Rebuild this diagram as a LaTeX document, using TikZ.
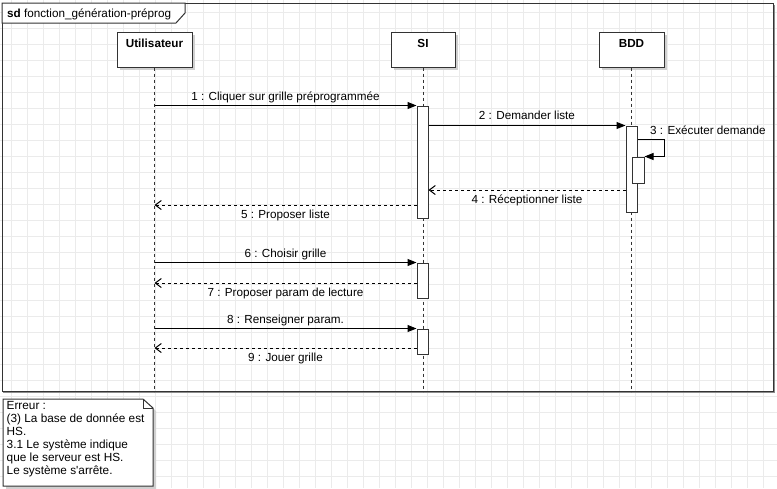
\documentclass[tikz,border=0pt]{standalone}
\usepackage{fontspec}
\setmainfont{Liberation Sans}
\newfontfamily\notefont{Liberation Sans}
\usetikzlibrary{arrows.meta,calc,shadows}
\definecolor{gridc}{HTML}{EBEBEB}
\definecolor{linec}{HTML}{333333}
\definecolor{shadc}{HTML}{D0D0D0}
\begin{document}
\begin{tikzpicture}[x=1pt,y=-1pt,
  every node/.style={inner sep=0pt, font=\fontsize{11.7}{13}\selectfont},
  gridline/.style={draw=gridc, line width=1pt},
  headbox/.style={draw=linec, fill=white, line width=1pt, minimum height=35pt,
    drop shadow={shadow xshift=3pt, shadow yshift=-3pt, fill=shadc, opacity=1}},
  actbox/.style={draw=linec, fill=white, line width=1pt, minimum width=11pt},
  lifeline/.style={draw=linec, line width=1pt, dash pattern=on 3pt off 3pt},
  sync/.style={draw=black, line width=1pt, -{Triangle[length=9pt,width=7pt]}},
  reply/.style={draw=black, line width=1pt, dash pattern=on 3pt off 3pt, -{Straight Barb[length=6pt,width=9pt]}},
  msglabel/.style={text height=9pt, text depth=2.5pt},
]
\useasboundingbox (0,0) rectangle (777,488);
% background grid
\foreach \gx in {11,27,...,779} {\draw[gridline] (\gx,0) -- (\gx,488);}
\foreach \gy in {12,28,...,488} {\draw[gridline] (0,\gy) -- (777,\gy);}

% frame
\draw[black!45, line width=1.5pt] (774.2,5) -- (774.2,392.7) -- (3,392.7);
\node[draw=linec, line width=1pt, minimum width=771pt, minimum height=388pt] (frame) at (387.5,197) {};
\draw[draw=linec, fill=white, line width=1pt] (2,3) -- (185,3) -- (185,13) -- (176,23) -- (2,23) -- cycle;
\node[anchor=base west] (title) at (7,17.5) {\textbf{sd}\ fonction\_génération-préprog};

% lifeline heads
\node[headbox, minimum width=75pt] (U) at (154.5,49.5) {};
\node[headbox, minimum width=64pt] (S) at (423,49.5) {};
\node[headbox, minimum width=65pt] (B) at (631.5,49.5) {};
\node[anchor=base] (Ulab) at (154.5,47) {\bfseries Utilisateur};
\node[anchor=base] (Slab) at (423,47) {\bfseries SI};
\node[anchor=base] (Blab) at (631.5,47) {\bfseries BDD};

% lifelines
\draw[lifeline] (U.south) -- (U.south |- frame.south);
\draw[lifeline] (S.south) -- (S.south |- frame.south);
\draw[lifeline] (B.south) -- (B.south |- frame.south);

% activations
\node[actbox, minimum height=112pt] (s1) at (422.5,162) {};
\node[actbox, minimum height=86pt] (b1) at (631.5,169) {};
\node[actbox, minimum width=12pt, minimum height=26pt] (b2) at (638,170) {};
\node[actbox, minimum height=35pt] (s2) at (422.5,280.5) {};
\node[actbox, minimum height=25pt] (s3) at (422.5,341.5) {};

% message coordinates
\coordinate (m3) at (664,139);
\coordinate (m4) at (0,190);
\coordinate (m5) at (0,205);
\coordinate (m7) at (0,283);
\coordinate (m9) at (0,348);

% messages
\draw[sync] (U.south |- s1.north) -- (s1.north west)
  node[msglabel, midway, above=2.5pt] (l1) {1 : Cliquer sur grille préprogrammée};
\draw[sync] (s1.east |- b1.north) -- (b1.north west)
  node[msglabel, midway, above=3.5pt] (l2) {2 : Demander liste};
\draw[sync] (m3 -| b1.east) -- (m3) |- (b2.north east);
\node[anchor=base west] (l3) at (650,134) {3 : Exécuter demande};
\draw[reply] (m4 -| b1.west) -- (m4 -| s1.east)
  node[msglabel, midway, below=4pt] (l4) {4 : Réceptionner liste};
\draw[reply] (m5 -| s1.west) -- (m5 -| U.south)
  node[msglabel, midway, below=4pt] (l5) {5 : Proposer liste};
\draw[sync] (U.south |- s2.north) -- (s2.north west)
  node[msglabel, midway, above=2.5pt] (l6) {6 : Choisir grille};
\draw[reply] (m7 -| s2.west) -- (m7 -| U.south)
  node[msglabel, midway, below=4pt] (l7) {7 : Proposer param de lecture};
\draw[sync] (U.south |- s3.north) -- (s3.north west)
  node[msglabel, midway, above=2.5pt] (l8) {8 : Renseigner param.};
\draw[reply] (m9 -| s3.west) -- (m9 -| U.south)
  node[msglabel, midway, below=4pt] (l9) {9 : Jouer grille};

% note
\fill[shadc] (6,402) -- (146,402) -- (156,411) -- (156,489) -- (6,489) -- cycle;
\draw[draw=linec, fill=white, line width=1pt] (3,399) -- (143,399) -- (153,408) -- (153,486) -- (3,486) -- cycle;
\draw[draw=linec, line width=0.6pt] (143,399) -- (143,408) -- (153,408);
\node[anchor=north west, align=left, font=\notefont\fontsize{11.8}{13}\selectfont] (note) at (6.5,401.5)
  {Erreur :\\(3) La base de donnée est\\HS.\\3.1 Le système indique\\que le serveur est HS.\\Le système s'arrête.};
\end{tikzpicture}
\end{document}
